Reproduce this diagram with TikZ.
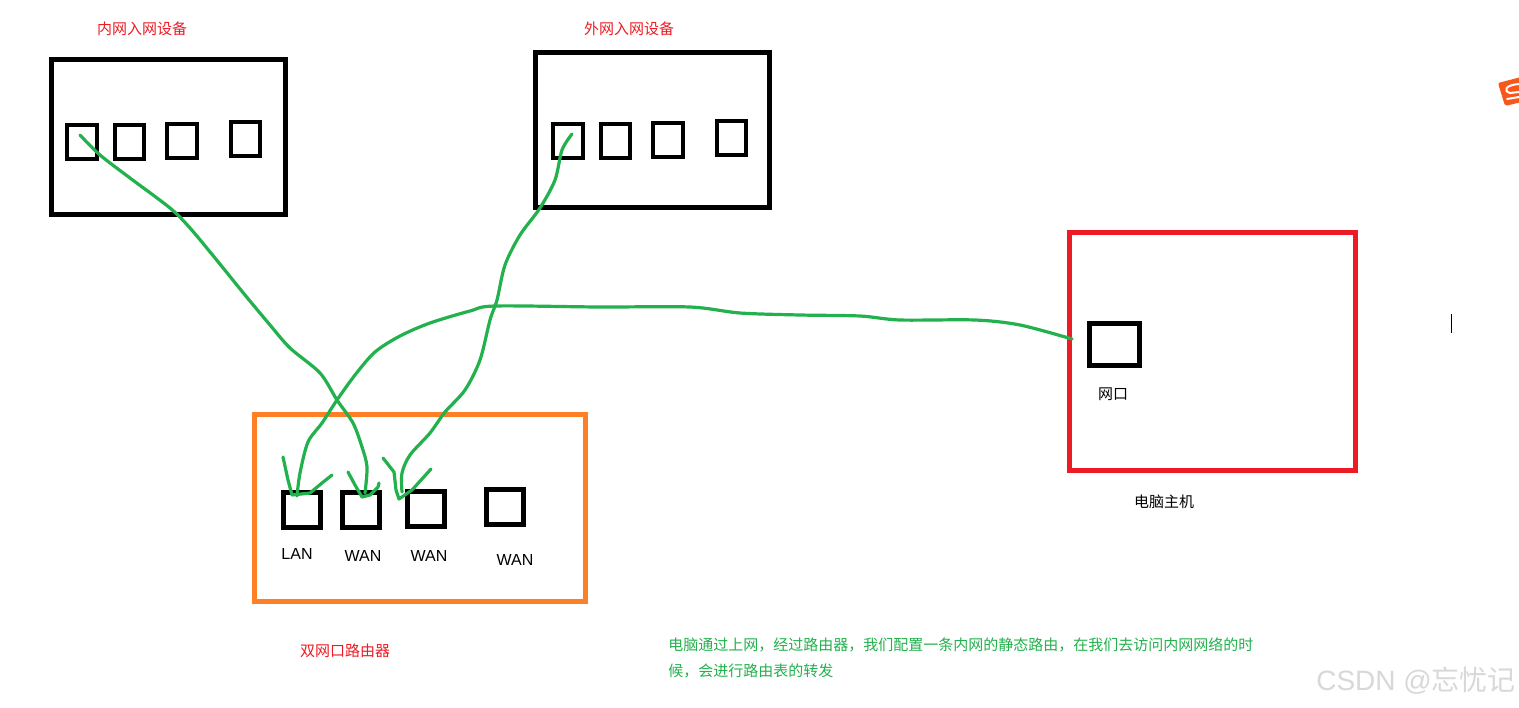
\documentclass[tikz,border=0pt]{standalone}
\usepackage{fontspec}
\setmainfont{Liberation Sans}
\newfontfamily\cjk{Noto Sans CJK SC}
\definecolor{gr}{HTML}{22B14C}
\definecolor{rd}{HTML}{ED1C24}
\definecolor{og}{HTML}{FF7F27}
\definecolor{wm}{HTML}{D8D8D8}
\definecolor{lg}{HTML}{F8561A}
\tikzset{
 x=0.75pt,y=-0.75pt,
 bx/.style={draw=black,line width=3.75pt,fill=none,inner sep=0pt,outer sep=0pt,rectangle},
 port/.style={draw=black,line width=3pt,inner sep=0pt,outer sep=0pt,rectangle},
 wire/.style={draw=gr,line width=2.4pt,line cap=round,line join=round},
 cn/.style={font=\cjk\fontsize{11.25}{14}\selectfont,inner sep=0pt},
 en/.style={font=\fontsize{12}{14}\selectfont,inner sep=0pt,text=black},
}
\newcommand{\boxat}[7][bx]{\node[#1,#7,minimum width=#4*0.75pt,minimum height=#5*0.75pt] (#6) at (#2,#3) {};}
\begin{document}
\begin{tikzpicture}
\useasboundingbox (0,0) rectangle (1519,707);
\fill[white] (0,0) rectangle (1519,707);
% devices
\boxat{168.5}{137}{234}{155}{inner}{draw=black}
\boxat{652.5}{130}{234}{155}{outer}{draw=black}
\boxat{420}{508}{331}{187}{router}{draw=og}
\boxat{1212.3}{351.5}{285.5}{238}{pc}{draw=rd}
% ports
\boxat[port]{82}{142}{30}{34}{a1}{}
\boxat[port]{129.5}{142}{29}{34}{a2}{}
\boxat[port]{182}{141}{30}{34}{a3}{}
\boxat[port]{245.5}{139}{29}{34}{a4}{}
\boxat[port]{568}{141}{30}{34}{b1}{}
\boxat[port]{615.5}{141}{29}{34}{b2}{}
\boxat[port]{668}{140}{30}{34}{b3}{}
\boxat[port]{731.5}{138}{29}{34}{b4}{}
\boxat{302}{510}{37}{35}{r1}{draw=black}
\boxat{361}{510}{37}{35}{r2}{draw=black}
\boxat{426}{509}{37}{35}{r3}{draw=black}
\boxat{505}{507}{37}{35}{r4}{draw=black}
\boxat{1114.5}{344.5}{50}{42}{n}{draw=black}
% free points of the hand-drawn wires
\coordinate (a1s) at (80,135);
\coordinate (b1s) at (572,134);
\coordinate (ns) at (1072,339);
\coordinate (r1t) at (297,496);
\coordinate (r2t) at (365,493);
\coordinate (r3t) at (402,492);
% wires
\draw[wire] plot[smooth,tension=0.5] coordinates {(a1s) (100,155) (130,178) (170,208) (190,228) (215,258) (245,295) (270,325) (290,348) (320,373) (337,400) (353,423) (362,447) (367,467) (r2t)};
\draw[wire] plot[smooth,tension=0.5] coordinates {(ns) (1020,325) (975,320) (900,320) (860,316) (800,315) (740,313) (690,307) (600,307) (495,306) (470,311) (430,323) (400,336) (375,352) (355,375) (337,400) (322,423) (308,442) (300,473) (r1t)};
\draw[wire] plot[smooth,tension=0.5] coordinates {(b1s) (562,150) (555,180) (540,208) (520,235) (505,265) (497,300) (490,320) (480,360) (465,390) (445,412) (430,433) (410,455) (402,473) (r3t)};
% arrow strokes
\draw[wire] (283,457) -- (288,480) -- (292,495) -- (310,493) -- (322,483) -- (332,475);
\draw[wire] (348,472) -- (355,485) -- (362,497) -- (370,495) -- (378,487) -- (379,483);
\draw[wire] (383,458) -- (394,472) -- (396,490) -- (399,499) -- (412,490) -- (431,469);
% labels
\node[cn,text=rd] (t1) at (142,29) {内网入网设备};
\node[cn,text=rd] (t2) at (629,29) {外网入网设备};
\node[cn,text=rd] (t3) at (345,651) {双网口路由器};
\node[cn,text=black] (t4) at (1113,394) {网口};
\node[cn,text=black] (t5) at (1164,502) {电脑主机};
\node[en] (l1) at (297,554) {LAN};
\node[en] (l2) at (363,556) {WAN};
\node[en] (l3) at (429,556) {WAN};
\node[en] (l4) at (515,560) {WAN};
\node[cn,text=gr,anchor=north west,align=left,font=\cjk\fontsize{11.25}{19.5}\selectfont] (t6) at (668,637) {电脑通过上网，经过路由器，我们配置一条内网的静态路由，在我们去访问内网网络的时\\候，会进行路由表的转发};
\node[inner sep=0pt,anchor=west,text=wm,font=\fontsize{21}{24}\selectfont] (wmk) at (1316,681) {CSDN @{\cjk 忘忧记}};
% cursor
\draw[black,line width=0.75pt] (1451,314) -- (1451,333);
% logo at the right edge
\begin{scope}
\clip (0,0) rectangle (1519,707);
\fill[lg,rounded corners=1.5pt] (1498,83) -- (1525,76) -- (1530,100) -- (1505,106) -- cycle;
\draw[white,line width=1.5pt,line cap=round] (1519,84) .. controls (1505,85) and (1503,91) .. (1510,93) -- (1519,92);
\draw[white,line width=1.5pt,line cap=round] (1507,99) -- (1519,97);
\end{scope}
\end{tikzpicture}
\end{document}
